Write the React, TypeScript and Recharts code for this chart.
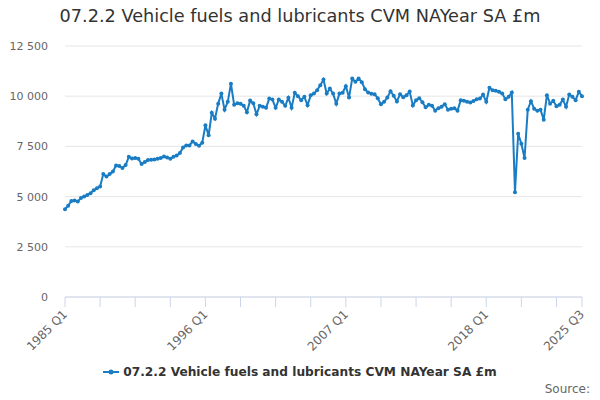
import { CartesianGrid, Line, LineChart, XAxis, YAxis } from "recharts";

const TITLE = "07.2.2 Vehicle fuels and lubricants CVM NAYear SA £m";
const SERIES_NAME = "07.2.2 Vehicle fuels and lubricants CVM NAYear SA £m";
const COLOR = "#1a7dc4";
const FONT = "'DejaVu Sans', Verdana, sans-serif";

const START_YEAR = 1985;

// quarterly values, 1985 Q1 .. 2025 Q3
const values = [
  4370, 4550, 4780, 4800, 4760, 4930, 5000, 5080, 5170, 5320, 5420, 5500,
  6120, 6000, 6120, 6250, 6550, 6530, 6420, 6570, 6980, 6900, 6920, 6880,
  6620, 6720, 6820, 6830, 6850, 6880, 6920, 7000, 6950, 6880, 6980, 7050,
  7170, 7450, 7550, 7550, 7750, 7620, 7530, 7680, 8550, 8050, 9170, 8880,
  9630, 10130, 9330, 9720, 10620, 9570, 9650, 9620, 9530, 9200, 9780, 9650,
  9100, 9520, 9480, 9420, 9880, 9830, 9420, 9830, 9720, 9520, 9920, 9430,
  10170, 10000, 9800, 9970, 9550, 10050, 10130, 10300, 10550, 10830, 10130, 10380,
  10130, 9630, 10130, 10170, 10500, 9930, 10880, 10720, 10880, 10700, 10350, 10180,
  10120, 10100, 9900, 9600, 9720, 9930, 10250, 10020, 9740, 10100, 9950, 10050,
  10230, 9540, 9800, 9900, 9700, 9450, 9580, 9530, 9280, 9400, 9480, 9600,
  9330, 9380, 9400, 9280, 9800, 9770, 9720, 9690, 9760, 9850, 9880, 10080,
  9720, 10420, 10300, 10270, 10220, 10130, 9850, 9970, 10180, 5220, 8130, 7630,
  6920, 9330, 9750, 9380, 9270, 9330, 8830, 10050, 9630, 9770, 9500, 9580,
  9830, 9470, 10080, 9970, 9800, 10220, 10000,
];

const quarters = values.map(
  (_, i) => `${START_YEAR + Math.floor(i / 4)} Q${(i % 4) + 1}`
);

const tickLabels = ["1985 Q1", "1996 Q1", "2007 Q1", "2018 Q1", "2025 Q3"];
const tickMarks = quarters.filter((_, i) => i % 11 === 0 || i === quarters.length - 1);
const yTicks = [0, 2500, 5000, 7500, 10000, 12500];

const data = quarters.map((q, i) => ({ q, v: values[i] }));

const fmt = (v: number) => String(v).replace(/\B(?=(\d{3})+(?!\d))/g, " ");

// y here is axis line + tickSize (tickMargin 0)
function XTick(props: any) {
  const { x, y, payload } = props;
  const label = payload.value as string;
  const tx = x + 3;
  const ty = y + 8;
  return (
    <g>
      <line x1={x} x2={x} y1={y - 10} y2={y} stroke="#ccd6eb" strokeWidth={1} />
      {tickLabels.includes(label) && (
        <text
          x={tx}
          y={ty}
          transform={`rotate(-45, ${tx}, ${ty})`}
          textAnchor="end"
          fontSize={12}
          fill="#666"
          fontFamily={FONT}
        >
          {label}
        </text>
      )}
    </g>
  );
}

export default function App() {
  return (
    <div
      style={{
        position: "absolute",
        left: 0,
        top: 0,
        width: 600,
        height: 400,
        background: "#fff",
        fontFamily: FONT,
      }}
    >
      <div
        style={{
          position: "absolute",
          top: 6,
          left: 0,
          width: 600,
          textAlign: "center",
          fontSize: 17.7,
          color: "#333",
        }}
      >
        {TITLE}
      </div>

      <LineChart
        width={600}
        height={400}
        data={data}
        margin={{ top: 46, right: 18, bottom: 0, left: 0 }}
      >
        <CartesianGrid vertical={false} stroke="#e6e6e6" />
        <XAxis
          dataKey="q"
          ticks={tickMarks}
          interval={0}
          height={103}
          tick={<XTick />}
          tickSize={10}
          tickMargin={0}
          tickLine={{ stroke: "none" }}
          axisLine={{ stroke: "#ccd6eb" }}
        />
        <YAxis
          width={65}
          domain={[0, 12500]}
          ticks={yTicks}
          tickFormatter={fmt}
          axisLine={false}
          tickLine={false}
          tickSize={0}
          tickMargin={17}
          tick={{ fontSize: 11, fill: "#666", fontFamily: FONT }}
        />
        <Line
          type="linear"
          dataKey="v"
          stroke={COLOR}
          strokeWidth={2}
          dot={{ r: 2, fill: COLOR, stroke: COLOR, strokeWidth: 0 }}
          isAnimationActive={false}
        />
      </LineChart>

      <div
        style={{
          position: "absolute",
          top: 365,
          left: 0,
          width: 600,
          display: "flex",
          justifyContent: "center",
          alignItems: "center",
        }}
      >
        <svg width={16} height={10} style={{ marginRight: 4 }}>
          <line x1={0} y1={5} x2={16} y2={5} stroke={COLOR} strokeWidth={2} />
          <circle cx={8} cy={5} r={2.5} fill={COLOR} />
        </svg>
        <span style={{ fontSize: 12.2, fontWeight: "bold", color: "#333" }}>
          {SERIES_NAME}
        </span>
      </div>

      <div
        style={{
          position: "absolute",
          top: 382,
          right: 10,
          fontSize: 12,
          color: "#666",
        }}
      >
        Source:
      </div>
    </div>
  );
}
